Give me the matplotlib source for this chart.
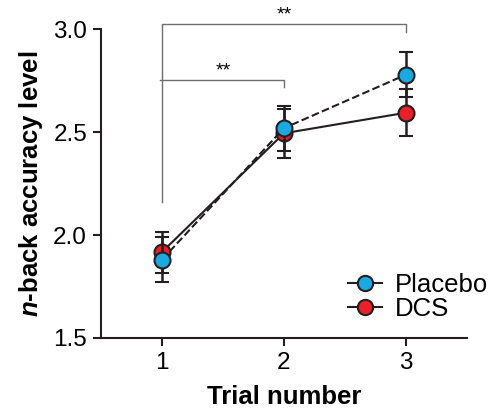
import matplotlib.pyplot as plt
from matplotlib.lines import Line2D

plt.rcParams['font.family'] = ['Liberation Sans', 'DejaVu Sans']
plt.rcParams['mathtext.fontset'] = 'custom'
plt.rcParams['mathtext.it'] = 'Liberation Sans:italic:bold'

# data
trials = [1, 2, 3]
placebo_mean = [1.88, 2.52, 2.78]
placebo_err = [0.11, 0.11, 0.11]
dcs_mean = [1.917, 2.495, 2.595]
dcs_err = [0.10, 0.12, 0.115]

dark = '#231f20'
blue = '#1ba9e1'
red = '#e8202a'

fig = plt.figure(figsize=(4.9, 4.09), dpi=100)
ax = fig.add_axes([0.206, 0.174, 0.747, 0.754])

# DCS (solid)
ax.errorbar(trials, dcs_mean, yerr=dcs_err, fmt='-o', color=dark,
            mfc=red, mec=dark, mew=1.5, ms=11.5, lw=1.5,
            elinewidth=1.8, capsize=5, capthick=1.8, zorder=3)
# Placebo (dashed)
ax.errorbar(trials, placebo_mean, yerr=placebo_err, fmt='--o', color=dark,
            mfc=blue, mec=dark, mew=1.5, ms=11.5, lw=1.5,
            elinewidth=1.8, capsize=5, capthick=1.8, zorder=4)

ax.set_xlim(0.5, 3.5)
ax.set_ylim(1.5, 3.0)
ax.set_xticks(trials)
ax.set_yticks([1.5, 2.0, 2.5, 3.0])
ax.set_yticklabels(['1.5', '2.0', '2.5', '3.0'])
ax.tick_params(labelsize=17.5, width=1.5, length=6, color=dark, pad=4)
for s in ['top', 'right']:
    ax.spines[s].set_visible(False)
for s in ['left', 'bottom']:
    ax.spines[s].set_linewidth(1.5)
    ax.spines[s].set_color(dark)

ax.set_xlabel('Trial number', fontsize=18.5, fontweight='bold', labelpad=8)
ax.set_ylabel(r'$\mathit{n}$-back accuracy level', fontsize=18.5, fontweight='bold', labelpad=6)

# significance brackets
gray = '#6d6e71'
ax.plot([1, 1, 3, 3], [2.16, 3.027, 3.027, 2.99], color=gray, lw=1, clip_on=False)
ax.text(2, 3.030, '**', ha='center', va='bottom', fontsize=14)
ax.plot([0.98, 2, 2], [2.755, 2.755, 2.72], color=gray, lw=1, clip_on=False)
ax.text(1.5, 2.758, '**', ha='center', va='bottom', fontsize=14)

handles = [
    Line2D([], [], ls='-', color=dark, lw=1.5, marker='o', ms=11, mfc=blue, mec=dark, mew=1.5),
    Line2D([], [], ls='-', color=dark, lw=1.5, marker='o', ms=11, mfc=red, mec=dark, mew=1.5),
]
ax.legend(handles, ['Placebo', 'DCS'], loc='lower right', bbox_to_anchor=(1.12, -0.02),
          frameon=False, fontsize=18.5, handlelength=1.3, handletextpad=0.5,
          labelspacing=0.0)

fig.savefig('out.png', dpi=100)
